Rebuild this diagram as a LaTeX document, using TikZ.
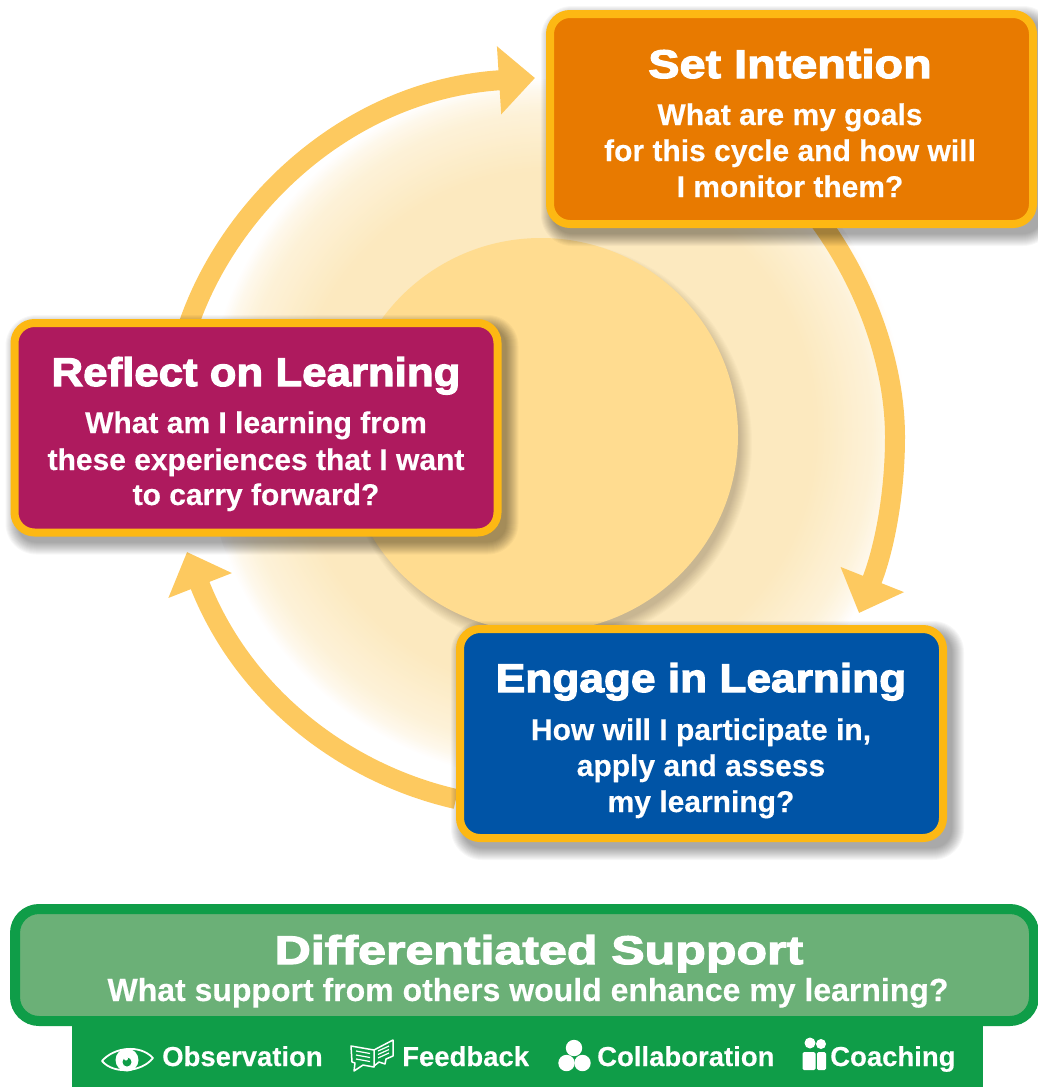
\documentclass[tikz,border=0pt]{standalone}
\usepackage{graphicx}
\usepackage{fontspec}
\setmainfont{Liberation Sans}
\newfontfamily\headfont[FakeStretch=1.17,FakeBold=3]{Liberation Sans Bold}
\newfontfamily\bodyfont[FakeBold=0.3]{Liberation Sans Bold}
\usetikzlibrary{arrows.meta,calc}
\definecolor{goldline}{HTML}{FDB813}
\definecolor{arrowgold}{HTML}{FDC95F}
\definecolor{discgold}{HTML}{FFDC90}
\definecolor{glowA}{HTML}{FCE9BF}
\definecolor{setfill}{HTML}{E87A00}
\definecolor{reflectfill}{HTML}{AE1A5E}
\definecolor{engagefill}{HTML}{0054A6}
\definecolor{supportfill}{HTML}{6BB077}
\definecolor{supportline}{HTML}{0F9D48}
\pgfdeclarelayer{back}\pgfdeclarelayer{shade}
\pgfsetlayers{back,shade,main}
\tikzset{
  cyclebox/.style={draw=goldline,line width=8pt,rounded corners=20pt,inner sep=0pt},
  cyclearrow/.style={draw=arrowgold,line width=20pt,-{Triangle[length=36pt,width=66pt,fill=arrowgold]}},
  headtext/.style={text=white,anchor=base,font=\headfont\fontsize{40pt}{40pt}\selectfont,inner sep=0pt},
  bodytext/.style={text=white,anchor=base,font=\bodyfont\fontsize{30pt}{30pt}\selectfont,inner sep=0pt},
  subtext/.style={text=white,anchor=base,font=\bodyfont\fontsize{32pt}{32pt}\selectfont,inner sep=0pt},
  itemtext/.style={text=white,anchor=base west,font=\bodyfont\fontsize{27.5pt}{27.5pt}\selectfont,inner sep=0pt},
  shadowlayer/.style={fill=black,fill opacity=0.03},
}
\newcommand{\softbox}[1]{%
  \foreach \e in {-1,0,...,11}{%
    \fill[shadowlayer,rounded corners=20pt+\e pt]
      ([xshift=6pt-\e pt,yshift=-7pt-\e pt]#1.south west) rectangle ([xshift=6pt+\e pt,yshift=-7pt+\e pt]#1.north east);
  }%
}
\begin{document}
\begin{tikzpicture}[x=1pt,y=-1pt]
\useasboundingbox (0,0) rectangle (1038,1087);
% boxes
\node[cyclebox,fill=setfill,minimum width=483pt,minimum height=210pt] (set) at (791.5,119) {};
\node[cyclebox,fill=reflectfill,minimum width=483pt,minimum height=209.5pt] (reflect) at (256,427.75) {};
\node[cyclebox,fill=engagefill,minimum width=483pt,minimum height=209pt] (engage) at (701.5,733.5) {};
\node[fill=supportline,minimum width=911pt,minimum height=70pt,inner sep=0pt] (band) at (527.5,1052) {};
\node[draw=supportline,fill=supportfill,line width=10pt,rounded corners=24pt,minimum width=1019pt,minimum height=112pt,inner sep=0pt] (support) at (524.5,965) {};
% free ends
\coordinate (tipA) at (535,78);
\coordinate (tipB) at (859,613);
\coordinate (tipC) at (187,552);
\begin{pgfonlayer}{back}
  \foreach \r in {351,349,...,229}{
    \pgfmathsetmacro{\m}{(\r<320) ? (min(100,100-(\r-260)*40/60)) : ((\r<340) ? (60-(\r-320)*30/20) : (max(0,30-(\r-340)*30/12)))}
    \fill[glowA!\m!white] (555,430) circle (\r);
  }
  \foreach \e in {-5,-4,...,7}{
    \fill[fill=black!75!brown,fill opacity=0.02] (548,444) circle (197+\e);
  }
  \fill[discgold] (541,435) circle (197);
  \draw[cyclearrow] ([xshift=176pt,yshift=-12pt]reflect.north west) .. controls (225,210) and (345,90) .. (tipA);
  \draw[cyclearrow] ([xshift=273pt,yshift=8pt]set.south west) .. controls (870,290) and (895,370) .. (895,437) .. controls (895,495) and (884,550) .. (tipB);
  \draw[cyclearrow] (engage.west |- 0,799) .. controls (350,775) and (245,700) .. (tipC);
\end{pgfonlayer}
\begin{pgfonlayer}{shade}
  \softbox{set}\softbox{reflect}\softbox{engage}
\end{pgfonlayer}
% Set Intention
\node[headtext] (t1) at (790,78) {Set Intention};
\node[bodytext] (t1a) at (790,125) {What are my goals};
\node[bodytext] (t1b) at (790,161) {for this cycle and how will};
\node[bodytext] (t1c) at (790,197) {I monitor them?};
% Reflect
\node[headtext] (t2) at (256,386) {\scalebox{0.936}[1]{Reflect on Learning}};
\node[bodytext] (t2a) at (256,433) {What am I learning from};
\node[bodytext] (t2b) at (256,470) {these experiences that I want};
\node[bodytext] (t2c) at (256,505) {to carry forward?};
% Engage
\node[headtext] (t3) at (701,692) {\scalebox{0.945}[1]{Engage in Learning}};
\node[bodytext] (t3a) at (701,740) {How will I participate in,};
\node[bodytext] (t3b) at (701,776) {apply and assess};
\node[bodytext] (t3c) at (701,812) {my learning?};
% Support
\node[headtext] (t4) at (539,964) {\scalebox{1.07}[1]{Differentiated Support}};
\node[subtext] (t4a) at (528,1001) {What support from others would enhance my learning?};
% items
\node[itemtext] (i1) at (162,1066) {Observation};
\node[itemtext] (i2) at (402,1066) {Feedback};
\node[itemtext] (i3) at (597,1066) {Collaboration};
\node[itemtext] (i4) at (830,1066) {Coaching};
% eye icon
\draw[white,line width=1.8pt,line join=round] (102,1061) .. controls (114,1047) and (140,1044) .. (153,1058) .. controls (142,1072) and (114,1075) .. (102,1061) -- cycle;
\fill[white] (127,1060) circle (11.5);
\fill[supportline] (127,1062) circle (4.5);
\fill[white] (126,1058.5) circle (2);
% feedback icon
\draw[white,line width=1.5pt,line join=round] (351,1046) -- (374,1050) -- (374,1067) -- (363,1065) -- (354,1071) -- (355,1063) -- (352,1062) -- cycle;
\draw[white,line width=1.5pt,line join=round] (374,1050) -- (393,1040) -- (393,1056) -- (386,1059) -- (385,1064) -- (379,1062) -- (374,1066);
\foreach \q in {0,1,2}{
  \draw[white,line width=1.2pt] (356,1051+4*\q) -- (370,1053.5+4*\q);
  \draw[white,line width=1.2pt] (378,1051+3.5*\q) -- (389,1046+3.5*\q);
}
% collaboration icon
\fill[white] (574,1048) circle (8.2);
\fill[white] (566.5,1063) circle (8.2);
\fill[white] (582.5,1063) circle (8.2);
% coaching icon
\fill[white] (810,1043) circle (5.5);
\fill[white] (821,1044) circle (5);
\fill[white,rounded corners=1.5pt] (802.5,1052) rectangle (815.5,1070);
\fill[white,rounded corners=1.5pt] (817,1052) rectangle (826,1070);
\end{tikzpicture}
\end{document}
